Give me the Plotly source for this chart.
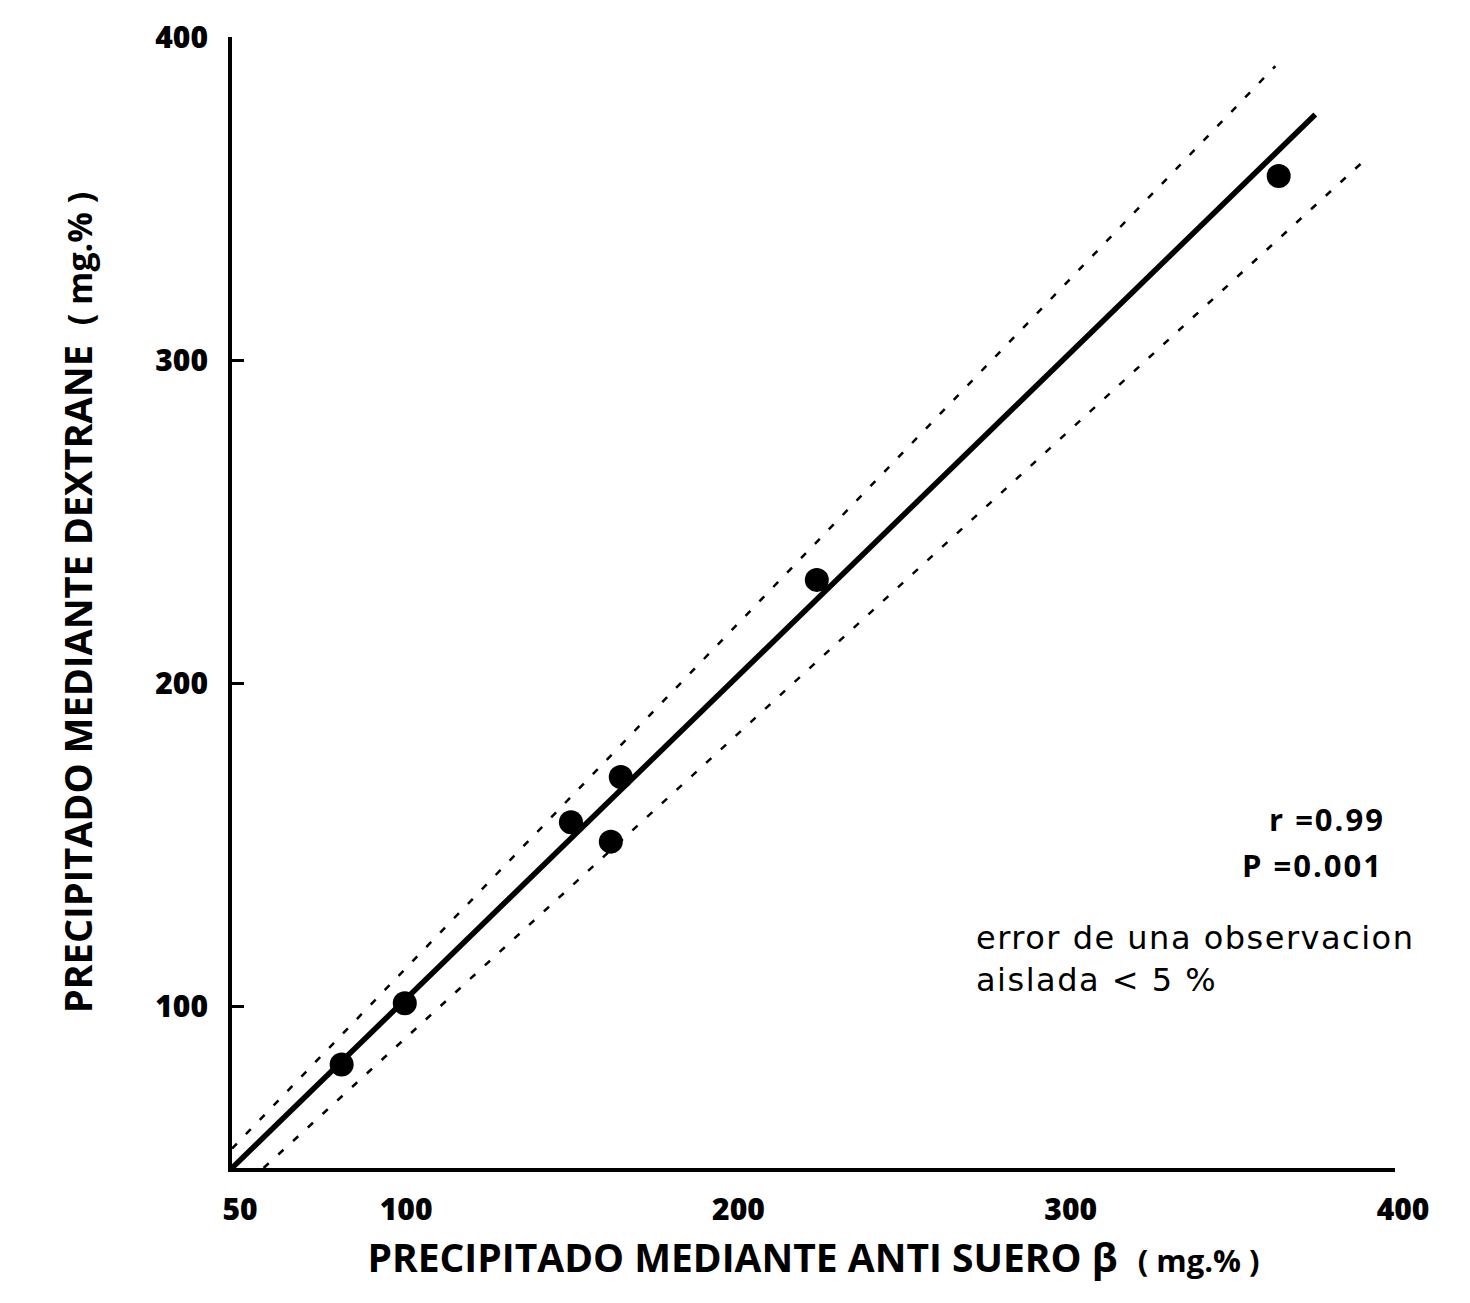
import plotly.graph_objects as go

# ---- data ----
x_obs = [83, 102, 152, 164, 167, 226, 365]
y_obs = [82, 101, 157, 151, 171, 232, 357]

fit_x = [50, 376]
fit_y = [50, 376]

upper_x = [50, 364]
upper_y = [56, 391]

lower_x = [59.5, 391]
lower_y = [50, 362]

x_ticks = [50, 100, 200, 300, 400]
y_ticks = [100, 200, 300, 400]

stats_text = ["r =0.99", "P =0.001"]
note_text = ["error de una observacion", "aislada &lt; 5 %"]

TITLEF = "Open Sans, sans-serif"
ROUND = "Open Sans, Lato, sans-serif"
NOTEF = "DejaVu Sans, sans-serif"

fig = go.Figure()

fig.add_trace(go.Scatter(x=upper_x, y=upper_y, mode="lines",
                         line=dict(color="black", width=2.5, dash="7px,13px"),
                         showlegend=False, hoverinfo="skip"))
fig.add_trace(go.Scatter(x=lower_x, y=lower_y, mode="lines",
                         line=dict(color="black", width=2.5, dash="7px,13px"),
                         showlegend=False, hoverinfo="skip"))
fig.add_trace(go.Scatter(x=fit_x, y=fit_y, mode="lines",
                         line=dict(color="black", width=5.5),
                         showlegend=False, hoverinfo="skip"))
fig.add_trace(go.Scatter(x=x_obs, y=y_obs, mode="markers",
                         marker=dict(color="black", size=24),
                         showlegend=False, cliponaxis=False))

fig.add_annotation(x=1, y=0.309, xref="paper", yref="paper", xanchor="right", yanchor="middle",
                   text="<span style='letter-spacing:2px'><b>" + stats_text[0] + "</b></span>",
                   showarrow=False, font=dict(family=ROUND, size=31, color="black"), xshift=-8)
fig.add_annotation(x=1, y=0.268, xref="paper", yref="paper", xanchor="right", yanchor="middle",
                   text="<span style='letter-spacing:2px'><b>" + stats_text[1] + "</b></span>",
                   showarrow=False, font=dict(family=ROUND, size=31, color="black"), xshift=-10)
fig.add_annotation(x=0.638, y=0.185, xref="paper", yref="paper", xanchor="left", yanchor="middle",
                   text="<span style='letter-spacing:1.5px'>" + note_text[0] + "</span><br>"
                        + "<span style='letter-spacing:1.5px'>" + note_text[1] + "</span>",
                   showarrow=False, align="left",
                   font=dict(family=NOTEF, size=32, color="black"))

fig.update_layout(
    width=1470, height=1303,
    margin=dict(l=232, r=75, t=37, b=135),
    paper_bgcolor="white", plot_bgcolor="white",
    xaxis=dict(range=[50, 400], tickvals=x_ticks, ticktext=[str(v) for v in x_ticks],
               showgrid=False, zeroline=False, showline=True, linecolor="black", linewidth=4,
               ticks="", ticklabelshift=8, ticklabelstandoff=12,
               tickfont=dict(family=ROUND, size=30, color="black", weight=800),
               title=dict(text="PRECIPITADO MEDIANTE ANTI SUERO β  <span style='font-size:31px'>( mg.% )</span>",
                          font=dict(family=TITLEF, size=39, color="black", weight="bold"),
                          standoff=18)),
    yaxis=dict(range=[50, 400], tickvals=y_ticks, ticktext=[str(v) for v in y_ticks],
               showgrid=False, zeroline=False, showline=True, linecolor="black", linewidth=4,
               ticks="inside", ticklen=12, tickwidth=3, tickcolor="black", ticklabelstandoff=14,
               tickfont=dict(family=ROUND, size=30, color="black", weight=800),
               title=dict(text="PRECIPITADO MEDIANTE DEXTRANE  <span style='font-size:34px'>( mg.% )</span>",
                          font=dict(family=TITLEF, size=38, color="black", weight="bold"),
                          standoff=52)),
)

fig.write_html("out.html", config={"displayModeBar": False},
               post_script="document.body.style.margin='0';document.body.style.overflow='hidden';")
